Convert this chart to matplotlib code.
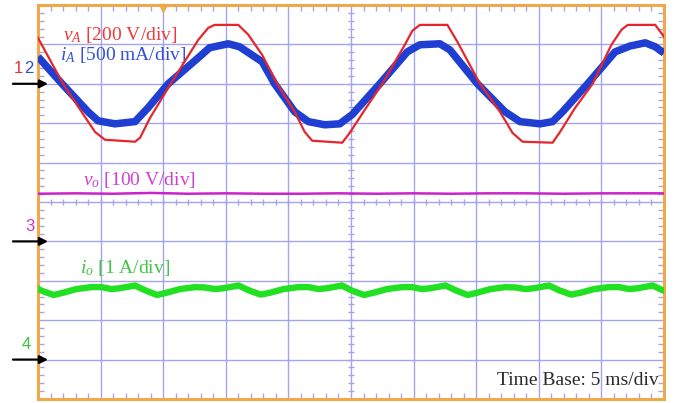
import numpy as np
import matplotlib
matplotlib.use("Agg")
import matplotlib.pyplot as plt
import matplotlib.transforms as mtransforms

# time in ms (5 ms/div), values in physical units
t_va = [0.0, 2.0, 3.75, 4.55, 5.35, 7.75, 8.15, 8.95, 10.6, 12.8, 13.6, 14.1,
        16.0, 16.8, 17.9, 19.1, 20.5, 21.3, 21.9, 24.3, 24.9, 26.1, 27.5, 29.3,
        29.9, 30.5, 32.7, 33.5, 35.3, 36.9, 37.9, 38.7, 41.1, 41.7, 42.9, 44.3,
        45.8, 46.6, 47.1, 49.3, 50.0]
v_a = [233, 0, -168, -244, -284, -294, -274, -173, 0, 223, 284, 299,
       299, 249, 147, 0, -142, -244, -289, -299, -249, -132, 0, 198,
       269, 299, 299, 213, 0, -142, -249, -294, -299, -244, -122, 0,
       198, 274, 299, 299, 239]

t_ia = [0.0, 1.92, 4.0, 4.8, 6.15, 7.75, 8.79, 10.4, 12.8, 13.7, 15.2, 16.1,
        17.9, 18.9, 20.5, 21.6, 22.9, 24.1, 25.1, 27.3, 29.5, 30.5, 32.1, 32.9,
        35.1, 37.3, 38.5, 40.1, 41.1, 41.9, 43.9, 46.1, 47.3, 48.5, 49.3, 50.0]
i_a = [0.343, 0.0, -0.355, -0.47, -0.508, -0.48, -0.305, 0.0, 0.33, 0.457, 0.508, 0.47,
       0.28, 0.0, -0.355, -0.48, -0.52, -0.508, -0.39, 0.0, 0.406, 0.495, 0.508, 0.43,
       0.0, -0.355, -0.48, -0.508, -0.48, -0.355, 0.0, 0.406, 0.48, 0.52, 0.47, 0.39]

t_vo = [0.0, 3.0, 6.0, 9.0, 12.0, 15.0, 18.0, 21.0, 24.0, 27.0, 30.0, 33.0,
        36.0, 39.0, 42.0, 45.0, 48.0, 50.0]
v_o = [121, 122, 121, 123, 121, 122, 121, 121, 122, 121, 122, 121,
       122, 122, 121, 122, 122, 122]

t_io = [0.0, 0.28, 1.24, 2.04, 3.07, 4.27, 5.07, 5.87, 6.51,
        7.75, 8.55, 9.51, 10.31, 11.34, 12.54, 13.34, 14.14, 14.78,
        16.02, 16.82, 17.78, 18.58, 19.61, 20.81, 21.61, 22.41, 23.05,
        24.28, 25.08, 26.04, 26.84, 27.87, 29.07, 29.87, 30.67, 31.31,
        32.55, 33.35, 34.31, 35.11, 36.14, 37.34, 38.14, 38.94, 39.58,
        40.82, 41.62, 42.58, 43.38, 44.41, 45.61, 46.41, 47.21, 47.85,
        49.09, 49.89, 50.0]
i_o = [1.80, 1.75, 1.64, 1.70, 1.79, 1.84, 1.84, 1.79, 1.81,
       1.88, 1.76, 1.64, 1.70, 1.79, 1.84, 1.83, 1.79, 1.81,
       1.88, 1.76, 1.65, 1.70, 1.79, 1.84, 1.84, 1.79, 1.81,
       1.88, 1.75, 1.64, 1.70, 1.79, 1.84, 1.84, 1.79, 1.81,
       1.88, 1.76, 1.64, 1.70, 1.79, 1.84, 1.83, 1.79, 1.81,
       1.88, 1.76, 1.65, 1.70, 1.79, 1.84, 1.84, 1.79, 1.81,
       1.88, 1.76, 1.75]

# scope settings: volts/amps per division and channel ground offsets (div)
scale = {"va": 200.0, "ia": 0.5, "vo": 100.0, "io": 1.0}
offset = {"12": 3, "3": -1, "4": -4}

plt.rcParams["mathtext.fontset"] = "custom"
plt.rcParams["mathtext.rm"] = "Liberation Serif"
plt.rcParams["mathtext.it"] = "Liberation Serif:italic"

grid_c = "#a4a4ee"
frame_c = "#f0a848"

fig = plt.figure(figsize=(6.74, 4.03), dpi=100)
ax = fig.add_axes([38 / 674, 1 - 399 / 403, 626 / 674, 394 / 403])
ax.set_xlim(0, 50)
ax.set_ylim(-5, 5)

ax.set_xticks(np.arange(0, 51, 5))
ax.set_yticks(np.arange(-5, 6, 1))
ax.set_xticks(np.arange(0, 50.01, 1), minor=True)
ax.set_yticks(np.arange(-5, 5.01, 0.2), minor=True)
ax.tick_params(which="both", direction="in", color=grid_c, labelleft=False,
               labelbottom=False, top=True, right=True)
ax.tick_params(which="major", length=0)
ax.tick_params(which="minor", length=4, width=1)
ax.grid(True, which="major", color=grid_c, lw=1)
for s in ax.spines.values():
    s.set_color(frame_c)
    s.set_linewidth(2.2)

# centre cross ticks
xm = np.arange(0, 50.01, 1)
ym = np.arange(-5, 5.01, 0.2)
ax.plot(xm, np.zeros_like(xm), ls="none", marker="|", ms=5, color=grid_c, mew=1)
ax.plot(np.full_like(ym, 25), ym, ls="none", marker="_", ms=5, color=grid_c, mew=1)

ax.plot(t_ia, np.array(i_a) / scale["ia"] + offset["12"], color="#1f3fd2",
        lw=5.4, solid_joinstyle="round", solid_capstyle="butt", zorder=3)
ax.plot(t_va, np.array(v_a) / scale["va"] + offset["12"], color="#e6262b",
        lw=1.6, solid_joinstyle="round", zorder=4)
ax.plot(t_vo, np.array(v_o) / scale["vo"] + offset["3"], color="#cc22cc",
        lw=1.8, zorder=3)
ax.plot(t_io, np.array(i_o) / scale["io"] + offset["4"], color="#22e022",
        lw=4.6, solid_joinstyle="round", zorder=3)

# trigger marker
ax.plot([10], [4.93], marker="v", color=frame_c, ms=6, clip_on=False, zorder=5)

lbl = dict(fontsize=14, family="Liberation Serif", va="baseline")
ax.text(2.0, 4.11, r"$v_A$ [200 V/div]", color="#ee3a3a", **lbl)
ax.text(1.76, 3.6, r"$i_A$ [500 mA/div]", color="#3550d8", **lbl)
ax.text(3.6, 0.43, r"$v_o$ [100 V/div]", color="#d040d0", **lbl)
ax.text(3.35, -1.8, r"$i_o$ [1 A/div]", color="#44c444", **lbl)
ax.text(49.6, -4.64, "Time Base: 5 ms/div", color="#2a2a2a", ha="right", **lbl)

# channel ground markers on the left
trans = mtransforms.blended_transform_factory(ax.transAxes, ax.transData)
for y in offset.values():
    ax.annotate("", xy=(0.016, y), xytext=(-0.04, y), xycoords=trans,
                textcoords=trans, annotation_clip=False,
                arrowprops=dict(arrowstyle="-|>", color="black", lw=1.6,
                                mutation_scale=12, shrinkA=0, shrinkB=0))
num = dict(transform=trans, fontsize=12, family="Liberation Sans", va="bottom")
ax.text(-0.0235, 3.2, "1", color="#e83030", ha="right", **num)
ax.text(-0.0225, 3.2, "2", color="#3050d0", ha="left", **num)
ax.text(-0.021, -0.8, "3", color="#d030d0", **num)
ax.text(-0.026, -3.8, "4", color="#40c040", **num)

fig.savefig("out.png", dpi=100)
